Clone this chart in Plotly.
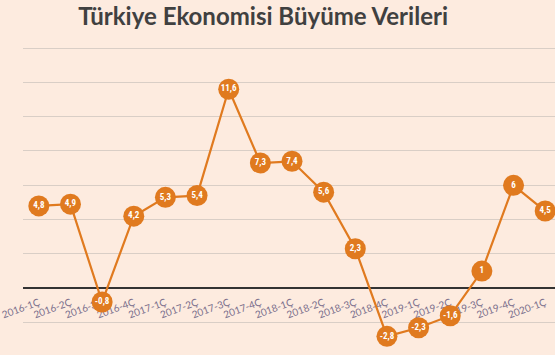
import plotly.graph_objects as go

categories = ["2016-1Ç", "2016-2Ç", "2016-3Ç", "2016-4Ç", "2017-1Ç", "2017-2Ç", "2017-3Ç", "2017-4Ç",
              "2018-1Ç", "2018-2Ç", "2018-3Ç", "2018-4Ç", "2019-1Ç", "2019-2Ç", "2019-3Ç", "2019-4Ç", "2020-1Ç"]
growth = [4.8, 4.9, -0.8, 4.2, 5.3, 5.4, 11.6, 7.3, 7.4, 5.6, 2.3, -2.8, -2.3, -1.6, 1, 6, 4.5]
labels = [f"<b>{v:g}</b>".replace(".", ",") for v in growth]

title_text = "Türkiye Ekonomisi Büyüme Verileri"

bg = "#fdebdf"
orange = "#e07a1f"

ymin, ymax = -3.89, 14.06

fig = go.Figure()
fig.add_trace(go.Scatter(
    x=list(range(len(categories))), y=growth,
    mode="lines+markers+text",
    line=dict(color=orange, width=2.2),
    marker=dict(size=21, color=orange, line=dict(width=0)),
    text=labels, textposition="middle center",
    textfont=dict(color="white", size=9, family="Roboto Condensed, Roboto, Arial Narrow, sans-serif"),
    cliponaxis=False,
    hoverinfo="skip",
))

fig.update_layout(
    width=555, height=355,
    margin=dict(l=17, r=0, t=47, b=0),
    paper_bgcolor=bg, plot_bgcolor=bg,
    showlegend=False,
    title=dict(text="<b>" + title_text + "</b>", x=0.474, xanchor="center", y=0.952, yanchor="middle",
               font=dict(family="Lato, Open Sans, sans-serif", size=24, color="#404040")),
    xaxis=dict(
        range=[-0.5, 16.31],
        tickmode="array", tickvals=list(range(len(categories))), ticktext=categories,
        tickangle=-20, ticks="outside", ticklen=4, tickcolor="rgba(0,0,0,0)",
        showgrid=False, zeroline=False, showline=False,
        tickfont=dict(family="Lato, sans-serif", size=10, color="#7b6f8c"),
        anchor="free", position=(0 - ymin) / (ymax - ymin),
        ticklabeloverflow="allow", layer="below traces",
    ),
    yaxis=dict(
        range=[ymin, ymax], dtick=2, tick0=0,
        showticklabels=False, ticks="",
        showgrid=True, gridcolor="#d9cec6", gridwidth=1,
        zeroline=True, zerolinecolor="#333333", zerolinewidth=1.6,
        showline=False, layer="below traces",
    ),
)

fig.write_html("out.html")
